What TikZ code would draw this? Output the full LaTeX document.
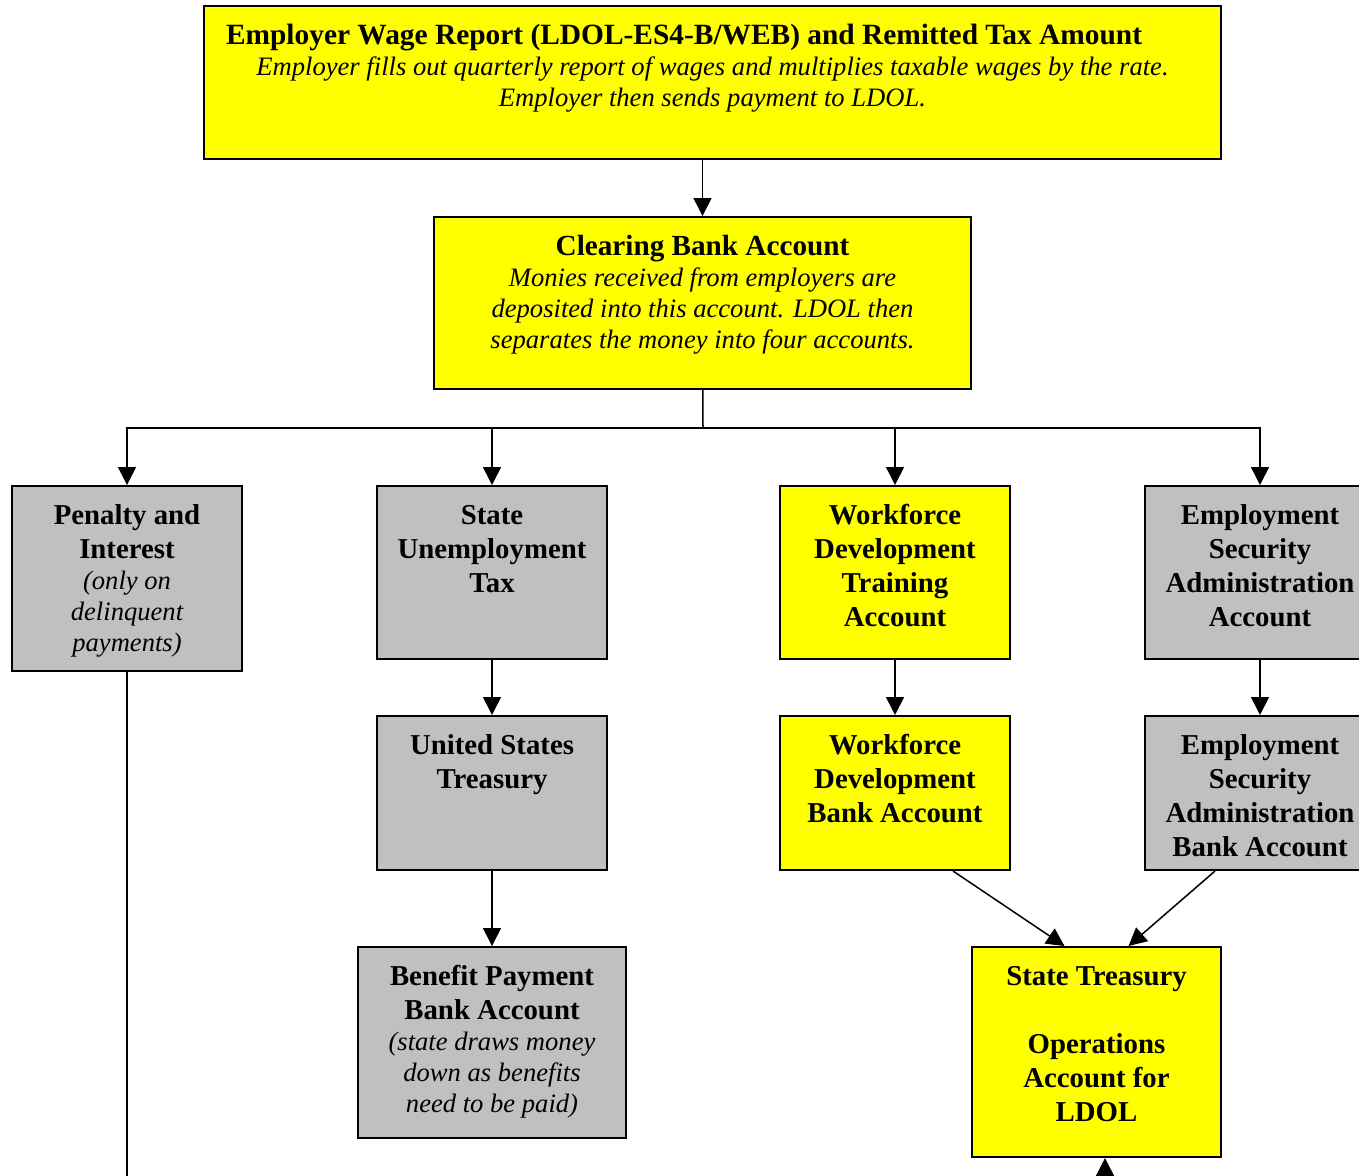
\documentclass[tikz,border=0pt]{standalone}
\usepackage{fontspec}
\setmainfont{Liberation Serif}
\usetikzlibrary{arrows.meta}

\definecolor{boxyellow}{HTML}{FFFF00}
\definecolor{boxgray}{HTML}{C0C0C0}

% box contents: width and height in px, text starts at the top
\newcommand{\bx}[3]{\parbox[c][\dimexpr#2pt/2\relax][t]{\dimexpr#1pt/2\relax}{\centering#3}}
\newcommand{\hd}[1]{{\bfseries\fontsize{14.4}{17}\selectfont\rule{0pt}{19pt}#1\par}}
\newcommand{\nt}[1]{{\itshape\fontsize{13.3}{15.5}\selectfont#1\par}}

\begin{document}
\begin{tikzpicture}[x=0.5pt,y=-0.5pt]
		\clip (0,0) rectangle (1359,1175);
		\begin{scope}[every node/.style={draw=black,line width=1pt,inner sep=0pt,fill=boxgray}]
			\node[fill=boxyellow] (1) at (712.5,82.5) {\bx{1017}{153}{%
				{\raggedright\bfseries\fontsize{14.7}{16}\selectfont\rule{0pt}{19pt}\hspace*{11pt}Employer Wage Report (LDOL-ES4-B/WEB) and Remitted Tax Amount\par}
				\nt{Employer fills out quarterly report of wages and multiplies taxable wages by the rate.\\ Employer then sends payment to LDOL.}}};
			\node[fill=boxyellow] (2) at (702.5,303) {\bx{537}{172}{%
				{\bfseries\fontsize{14.6}{16}\selectfont\rule{0pt}{19pt}Clearing Bank Account\par}
				\nt{Monies received from employers are\\ deposited into this account. LDOL then\\ separates the money into four accounts.}}};
			\node (3) at (127,578.5) {\bx{230}{185}{\hd{Penalty and\\ Interest}\nt{(only on\\ delinquent\\ payments)}}};
			\node (4) at (492,572.5) {\bx{230}{173}{\hd{State\\ Unemployment\\ Tax}}};
			\node[fill=boxyellow] (5) at (895,572.5) {\bx{230}{173}{\hd{Workforce\\ Development\\ Training\\ Account}}};
			\node (6) at (1260,572.5) {\bx{230}{173}{\hd{Employment\\ Security\\ Administration\\ Account}}};
			\node (7) at (492,793) {\bx{230}{154}{\hd{United States\\ Treasury}}};
			\node[fill=boxyellow] (8) at (895,793) {\bx{230}{154}{\hd{Workforce\\ Development\\ Bank Account}}};
			\node (9) at (1260,793) {\bx{230}{154}{\hd{Employment\\ Security\\ Administration\\ Bank Account}}};
			\node (10) at (492,1042.5) {\bx{268}{191}{\hd{Benefit Payment\\ Bank Account}\nt{(state draws money\\ down as benefits\\ need to be paid)}}};
			\node[fill=boxyellow] (11) at (1096.5,1052) {\bx{249}{210}{\hd{State Treasury\\ ~\\ Operations\\ Account for\\ LDOL}}};
		\end{scope}

		\coordinate (split) at (703,428);
		\coordinate (down) at (127,1190);
		\coordinate (up) at (1105,1190);

		\begin{scope}[>={Triangle[length=9pt,width=9pt]},line width=0.75pt]
			\draw[->] (2.north |- 1.south) -- (2);
			\draw (2) -- (split);
			\draw[->] (split) -| (3);
			\draw[->] (split) -| (4);
			\draw[->] (split) -| (5);
			\draw[->] (split) -| (6);
			\draw[->] (4) -- (7);
			\draw[->] (5) -- (8);
			\draw[->] (6) -- (9);
			\draw[->] (7) -- (10);
			\draw[->] ([xshift=29pt]8.south) -- ([xshift=-16pt]11.north);
			\draw[->] ([xshift=-22.5pt]9.south) -- ([xshift=16pt]11.north);
			\draw (3) -- (down);
			\draw[->] (up) -- (up |- 11.south);
		\end{scope}
\end{tikzpicture}
\end{document}
